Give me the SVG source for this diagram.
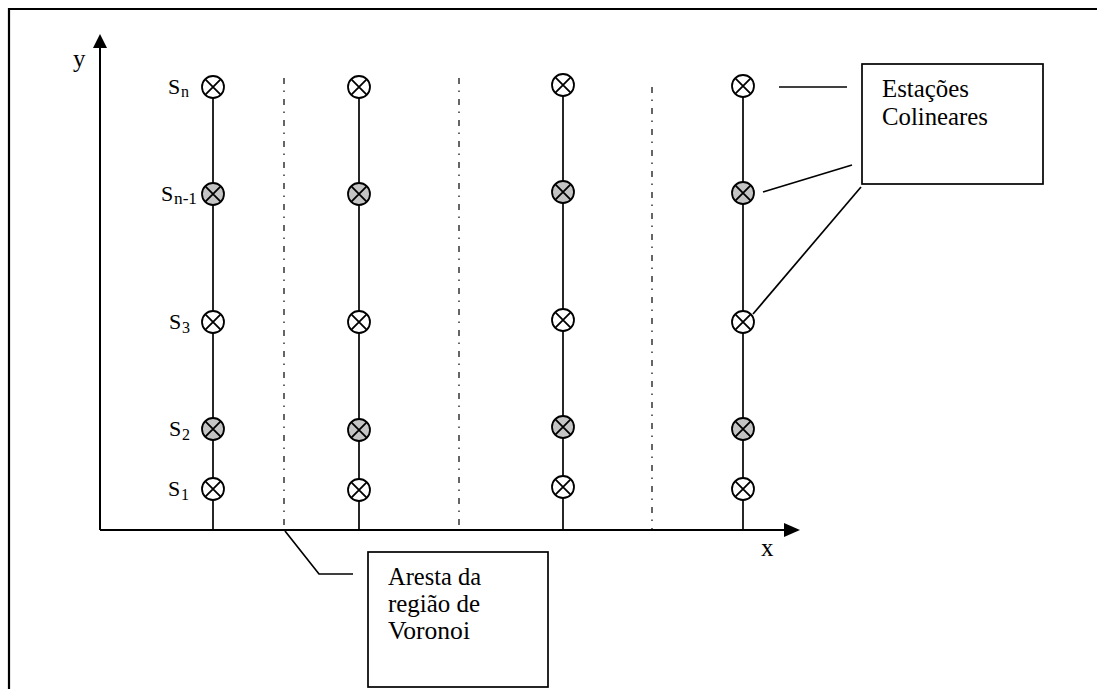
<svg xmlns="http://www.w3.org/2000/svg" xmlns:xlink="http://www.w3.org/1999/xlink" width="1097" height="689" viewBox="0 0 1097 689">
  <style>
    .frame { fill: none; stroke: #000; stroke-width: 2.2; }
    .axis { fill: none; stroke: #000; stroke-width: 2; }
    .mast { fill: none; stroke: #000; stroke-width: 1.7; }
    .edge { fill: none; stroke: #000; stroke-width: 1.2; stroke-dasharray: 6 6.5 1.5 7; }
    .lead { fill: none; stroke: #000; stroke-width: 1.7; }
    .box { fill: #fff; stroke: #000; stroke-width: 1.7; }
    .lbl { font-family: "Liberation Serif", "Times New Roman", serif; fill: #000; }
    .big { font-size: 25px; }
    .sl { font-size: 22px; }
    .sub { font-size: 16px; }
  </style>
  <defs>
    <g id="st-open">
      <circle r="11" fill="#fff" stroke="#000" stroke-width="1.8"/>
      <path d="M-7.6,-7.6 L7.6,7.6 M-7.6,7.6 L7.6,-7.6" stroke="#000" stroke-width="1.8"/>
    </g>
    <g id="st-grey">
      <circle r="11" fill="#c4c4c4" stroke="#000" stroke-width="1.8"/>
      <path d="M-7.6,-7.6 L7.6,7.6 M-7.6,7.6 L7.6,-7.6" stroke="#000" stroke-width="1.8"/>
    </g>
  </defs>

  <rect width="1097" height="689" fill="#fff"/>

  <!-- page frame -->
  <path class="frame" d="M9,689 V9 H1097"/>

  <!-- coordinate axes -->
  <g id="axes">
    <path class="axis" d="M100,530 V46 M100,530 H786"/>
    <path d="M100,34 L107,48 L93,48 Z" fill="#000"/>
    <path d="M800,530 L784,523 L784,537 Z" fill="#000"/>
    <text class="lbl big" x="73" y="67">y</text>
    <text class="lbl big" x="761" y="556">x</text>
  </g>

  <!-- connectors: station lines, Voronoi edges, callout leaders -->
  <g id="connectors">
    <path class="mast" d="M213,87 V530"/>
    <path class="mast" d="M359,87 V530"/>
    <path class="mast" d="M563,85 V530"/>
    <path class="mast" d="M743,86 V530"/>
    <path class="edge" d="M284,78 V529"/>
    <path class="edge" d="M459,78 V529"/>
    <path class="edge" d="M652,87 V529"/>
    <path class="lead" d="M779,87 H847"/>
    <path class="lead" d="M763,192 L852,165"/>
    <path class="lead" d="M753,314 L861,187"/>
    <path class="lead" d="M285,531 L319,574 H353"/>
  </g>

  <!-- column 1 -->
  <g id="c1-sn"><use xlink:href="#st-open" x="213" y="87"/></g>
  <g id="c1-sn1"><use xlink:href="#st-grey" x="213" y="194"/></g>
  <g id="c1-s3"><use xlink:href="#st-open" x="213" y="322"/></g>
  <g id="c1-s2"><use xlink:href="#st-grey" x="213" y="429"/></g>
  <g id="c1-s1"><use xlink:href="#st-open" x="213" y="489"/></g>
  <!-- column 2 -->
  <g id="c2-sn"><use xlink:href="#st-open" x="359" y="87"/></g>
  <g id="c2-sn1"><use xlink:href="#st-grey" x="359" y="194"/></g>
  <g id="c2-s3"><use xlink:href="#st-open" x="359" y="322"/></g>
  <g id="c2-s2"><use xlink:href="#st-grey" x="359" y="430"/></g>
  <g id="c2-s1"><use xlink:href="#st-open" x="359" y="490"/></g>
  <!-- column 3 -->
  <g id="c3-sn"><use xlink:href="#st-open" x="563" y="85"/></g>
  <g id="c3-sn1"><use xlink:href="#st-grey" x="563" y="192"/></g>
  <g id="c3-s3"><use xlink:href="#st-open" x="563" y="320"/></g>
  <g id="c3-s2"><use xlink:href="#st-grey" x="563" y="427"/></g>
  <g id="c3-s1"><use xlink:href="#st-open" x="563" y="487"/></g>
  <!-- column 4 -->
  <g id="c4-sn"><use xlink:href="#st-open" x="743" y="86"/></g>
  <g id="c4-sn1"><use xlink:href="#st-grey" x="743" y="193"/></g>
  <g id="c4-s3"><use xlink:href="#st-open" x="743" y="322"/></g>
  <g id="c4-s2"><use xlink:href="#st-grey" x="743" y="429"/></g>
  <g id="c4-s1"><use xlink:href="#st-open" x="743" y="489"/></g>

  <!-- station labels (S with subscript index) -->
  <g id="labels">
    <text class="lbl sl" x="168" y="94">S</text>
    <text class="lbl sub" x="181" y="97">n</text>
    <text class="lbl sl" x="161" y="201">S</text>
    <text class="lbl sub" x="174" y="204" textLength="23" lengthAdjust="spacingAndGlyphs">n-1</text>
    <text class="lbl sl" x="169" y="329">S</text>
    <text class="lbl sub" x="182" y="333">3</text>
    <text class="lbl sl" x="169" y="436">S</text>
    <text class="lbl sub" x="182" y="440">2</text>
    <text class="lbl sl" x="168" y="496">S</text>
    <text class="lbl sub" x="181" y="500">1</text>
  </g>

  <g id="note-colineares">
    <rect class="box" x="862" y="64" width="181" height="120"/>
    <text class="lbl big" x="882" y="97" textLength="87" lengthAdjust="spacingAndGlyphs">Estações</text>
    <text class="lbl big" x="882" y="125" textLength="106" lengthAdjust="spacingAndGlyphs">Colineares</text>
  </g>

  <g id="note-voronoi">
    <rect class="box" x="368" y="552" width="180" height="135"/>
    <text class="lbl big" x="388" y="585" textLength="93" lengthAdjust="spacingAndGlyphs">Aresta da</text>
    <text class="lbl big" x="388" y="612" textLength="92" lengthAdjust="spacingAndGlyphs">região de</text>
    <text class="lbl big" x="388" y="639" textLength="82" lengthAdjust="spacingAndGlyphs">Voronoi</text>
  </g>
</svg>
